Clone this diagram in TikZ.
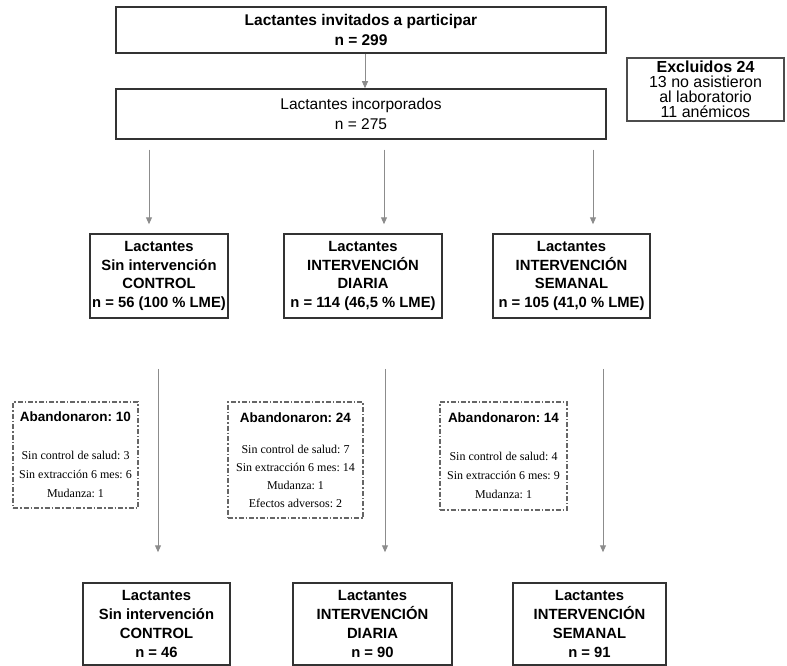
\documentclass[tikz,border=0pt]{standalone}
\usepackage{fontspec}
\setmainfont{Liberation Serif}
\setsansfont{Liberation Sans}
\usetikzlibrary{arrows.meta}
\frenchspacing

\newcommand\abtit[1]{{\sffamily\bfseries\fontsize{13.5}{16}\selectfont #1}}

\begin{document}
\begin{tikzpicture}[x=1pt, y=-1pt, >={Triangle[length=7pt, width=6pt]},
	every node/.style={align=center, inner sep=0pt},
	caja/.style={draw=black!80, line width=1.5pt},
	negr/.style={font=\sffamily\bfseries\fontsize{14.8}{18.7}\selectfont},
	aband/.style={draw=black!60, line width=1.5pt, dash pattern=on 5pt off 2pt on 1.5pt off 2pt, font=\fontsize{12}{19}\selectfont},
	flecha/.style={->, draw=black!45, line width=1pt}]
	\useasboundingbox (0,0) rectangle (787,666);
	\node[caja, font=\sffamily\bfseries\fontsize{15.5}{20}\selectfont, minimum width=490, minimum height=46] (invit) at (361,30) {Lactantes invitados a participar\\ n = 299};
	\node[caja, font=\sffamily\fontsize{15.5}{20}\selectfont, minimum width=490, minimum height=50] (incorp) at (361,114) {Lactantes incorporados\\ n = 275};
	\node[caja, draw=black!70, line width=1.2pt, font=\sffamily\fontsize{16}{15}\selectfont, minimum width=157, minimum height=63] (excl) at (705.5,89.5) {\textbf{Excluidos 24}\\ 13 no asistieron\\ al laboratorio\\ 11 anémicos};
	\node[caja, negr, minimum width=138, minimum height=84] (ctl) at (159,276) {Lactantes\\ Sin intervención\\ CONTROL\\ n = 56 (100 \% LME)};
	\node[caja, negr, minimum width=158, minimum height=84] (dia) at (363,276) {Lactantes\\ INTERVENCIÓN\\ DIARIA\\ n = 114 (46,5 \% LME)};
	\node[caja, negr, minimum width=157, minimum height=84] (sem) at (571.5,276) {Lactantes\\ INTERVENCIÓN\\ SEMANAL\\ n = 105 (41,0 \% LME)};
	\node[aband, minimum width=125, minimum height=106] (ab1) at (75.5,455) {\abtit{Abandonaron: 10}\\[19pt] Sin control de salud: 3\\ Sin extracción 6 mes: 6\\ Mudanza: 1};
	\node[aband, font=\fontsize{12}{18}\selectfont, minimum width=135, minimum height=116] (ab2) at (295.5,460) {\abtit{Abandonaron: 24}\\[13pt] Sin control de salud: 7\\ Sin extracción 6 mes: 14\\ Mudanza: 1\\ Efectos adversos: 2};
	\node[aband, minimum width=127, minimum height=108] (ab3) at (503.5,456) {\abtit{Abandonaron: 14}\\[19pt] Sin control de salud: 4\\ Sin extracción 6 mes: 9\\ Mudanza: 1};
	\node[caja, negr, minimum width=147, minimum height=82] (fin1) at (156.5,624) {Lactantes\\ Sin intervención\\ CONTROL\\ n = 46};
	\node[caja, negr, minimum width=159, minimum height=82] (fin2) at (372.5,624) {Lactantes\\ INTERVENCIÓN\\ DIARIA\\ n = 90};
	\node[caja, negr, minimum width=153, minimum height=82] (fin3) at (589.5,624) {Lactantes\\ INTERVENCIÓN\\ SEMANAL\\ n = 91};
	\draw[flecha, line width=0.8pt] (365,0 |- invit.south) -- (365,0 |- incorp.north);
	\foreach \a/\x in {ctl/149, dia/384, sem/593} {
		\draw[flecha, shorten <=10pt, shorten >=9pt] (\x,0 |- incorp.south) -- (\x,0 |- \a.north);
	}
	\foreach \a/\b/\x in {ctl/fin1/158, dia/fin2/385, sem/fin3/603} {
		\draw[flecha, shorten <=50pt, shorten >=30pt] (\x,0 |- \a.south) -- (\x,0 |- \b.north);
	}
\end{tikzpicture}
\end{document}
